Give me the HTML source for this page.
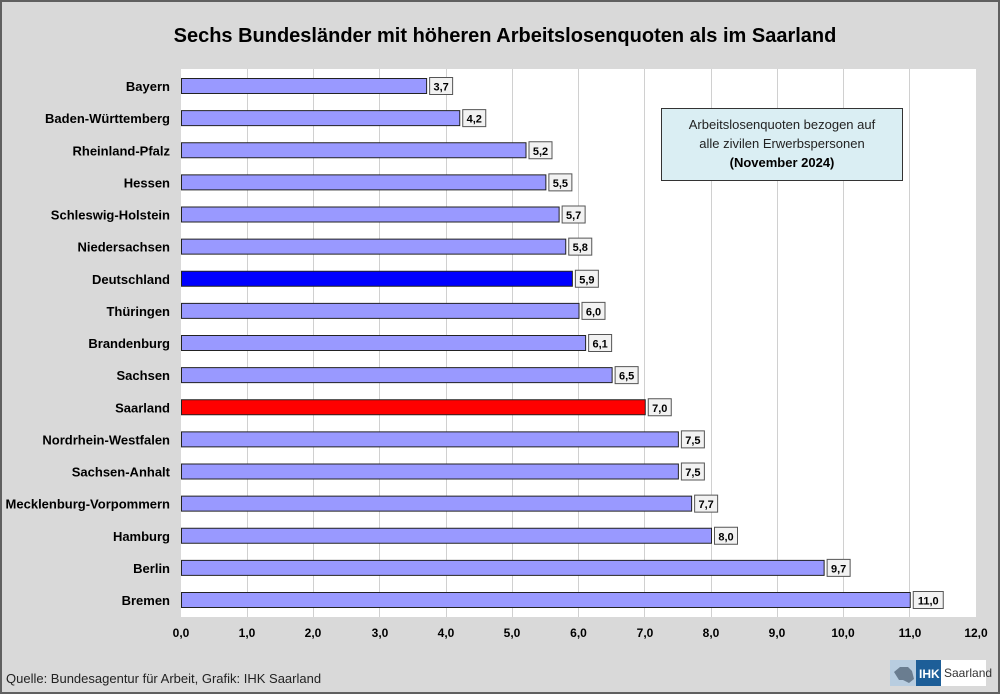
<!DOCTYPE html>
<html><head><meta charset="utf-8"><style>
body{margin:0;background:#d9d9d9}
svg{display:block;font-family:"Liberation Sans",Arial,sans-serif}
</style></head><body>
<svg width="1000" height="694" xmlns="http://www.w3.org/2000/svg">
<rect x="1" y="1" width="998" height="692" fill="#d9d9d9" stroke="#606060" stroke-width="2"/>
<text x="505" y="42" text-anchor="middle" font-size="20" font-weight="bold" fill="#000">Sechs Bundesländer mit höheren Arbeitslosenquoten als im Saarland</text>
<rect x="181" y="69" width="795" height="548" fill="#fff"/>
<g stroke="#d0d0d0" stroke-width="1">
<line x1="247.5" y1="69" x2="247.5" y2="617"/><line x1="313.5" y1="69" x2="313.5" y2="617"/><line x1="379.5" y1="69" x2="379.5" y2="617"/><line x1="446.5" y1="69" x2="446.5" y2="617"/><line x1="512.5" y1="69" x2="512.5" y2="617"/><line x1="578.5" y1="69" x2="578.5" y2="617"/><line x1="644.5" y1="69" x2="644.5" y2="617"/><line x1="711.5" y1="69" x2="711.5" y2="617"/><line x1="777.5" y1="69" x2="777.5" y2="617"/><line x1="843.5" y1="69" x2="843.5" y2="617"/><line x1="909.5" y1="69" x2="909.5" y2="617"/>
</g>
<g id="bars" font-size="13" font-weight="bold"></g>
<g font-size="12" font-weight="bold" text-anchor="middle" fill="#000">
<text x="181" y="637">0,0</text><text x="247" y="637">1,0</text><text x="313" y="637">2,0</text><text x="380" y="637">3,0</text><text x="446" y="637">4,0</text><text x="512" y="637">5,0</text><text x="578.5" y="637">6,0</text><text x="645" y="637">7,0</text><text x="711" y="637">8,0</text><text x="777" y="637">9,0</text><text x="843" y="637">10,0</text><text x="910" y="637">11,0</text><text x="976" y="637">12,0</text>
</g>
<rect x="661.5" y="108.5" width="241" height="72" fill="#daeef3" stroke="#333"/>
<text x="782" y="129" text-anchor="middle" font-size="13" fill="#222">Arbeitslosenquoten bezogen auf</text>
<text x="782" y="148" text-anchor="middle" font-size="13" fill="#222">alle zivilen Erwerbspersonen</text>
<text x="782" y="167" text-anchor="middle" font-size="13" font-weight="bold" fill="#000">(November 2024)</text>
<text x="6" y="683" font-size="13" fill="#222">Quelle: Bundesagentur für Arbeit, Grafik: IHK Saarland</text>
<rect x="890" y="660" width="27" height="26" fill="#b8cde0"/>
<path d="M894 672 l6-5 l8 0 l4 4 l2 8 l-5 4 l-6-3 l-4 0z" fill="#6a7d90"/>
<rect x="916" y="660" width="25" height="26" fill="#1d5e98"/>
<text x="919" y="678" font-size="12" font-weight="bold" fill="#fff">IHK</text>
<rect x="941" y="660" width="45" height="26" fill="#fff"/>
<text x="944" y="677" font-size="12" fill="#333">Saarland</text>
</svg>
<script>
const d=[["Bayern",3.7],["Baden-Württemberg",4.2],["Rheinland-Pfalz",5.2],["Hessen",5.5],["Schleswig-Holstein",5.7],["Niedersachsen",5.8],["Deutschland",5.9],["Thüringen",6.0],["Brandenburg",6.1],["Sachsen",6.5],["Saarland",7.0],["Nordrhein-Westfalen",7.5],["Sachsen-Anhalt",7.5],["Mecklenburg-Vorpommern",7.7],["Hamburg",8.0],["Berlin",9.7],["Bremen",11.0]];
let s="";
d.forEach((r,i)=>{const y=86+i*32.125;const w=r[1]*66.25;
const c=r[0]=="Deutschland"?"#0000ff":r[0]=="Saarland"?"#ff0000":"#9999ff";
s+=`<text x="170" y="${y+5}" text-anchor="end" fill="#000">${r[0]}</text>`;
s+=`<rect x="181.5" y="${y-7.5}" width="${w}" height="15" fill="${c}" stroke="#222"/>`;
const l=r[1].toFixed(1).replace(".",",");const bw=l.length>3?30:23;
s+=`<rect x="${184.5+w}" y="${y-8.5}" width="${bw}" height="17" fill="#f2f2f2" stroke="#555"/>`;
s+=`<text x="${184.5+w+bw/2}" y="${y+4.5}" text-anchor="middle" font-size="11" fill="#000">${l}</text>`;});
document.getElementById("bars").innerHTML=s;
</script>
</body></html>
